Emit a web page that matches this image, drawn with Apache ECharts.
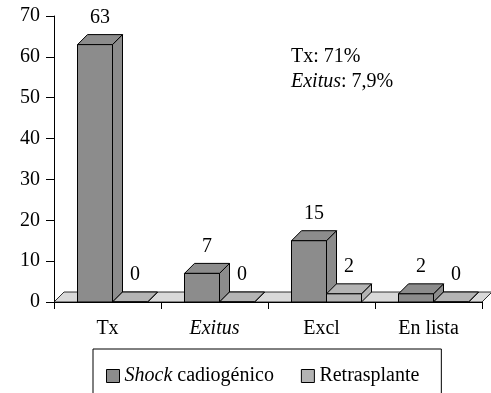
<!DOCTYPE html>
<html>
<head>
<meta charset="utf-8">
<script src="https://cdn.jsdelivr.net/npm/echarts@6/dist/echarts.min.js"></script>
<style>
  html, body { margin: 0; padding: 0; background: #fff; }
  #chart { width: 491px; height: 393px; }
</style>
</head>
<body>
<div id="chart"></div>
<script>
// Outcome counts per group
const categories = ['Tx', 'Exitus', 'Excl', 'En lista'];
const shockValues = [63, 7, 15, 2];
const retrasplanteValues = [0, 0, 2, 0];
const seriesNames = ['Shock cadiogénico', 'Retrasplante'];
const italicWords = ['Exitus', 'Shock'];
const yMin = 0, yMax = 70, yStep = 10;
const noteTx = 'Tx: 71%';
const noteExitus = ': 7,9%';

const FONT = 'Liberation Serif';
const FS = 20;
const DEPTH_X = 10, DEPTH_Y = 10;   // oblique depth of the pseudo-3D boxes
const BAR_W = 35;
const SHIFT = 5;
const colors = ['#8c8c8c', '#b4b4b4'];
const floorColor = '#d9d9d9';

function italicize(text) {
  let out = text;
  italicWords.forEach(w => { out = out.replace(w, '{i|' + w + '}'); });
  return out;
}

function boxRenderer(seriesIdx) {
  return function (params, api) {
    const cat = api.value(0), val = api.value(1);
    const base = api.coord([cat, 0]);
    const top = api.coord([cat, val]);
    const x0 = base[0] + SHIFT - BAR_W + seriesIdx * BAR_W;
    const x1 = x0 + BAR_W;
    const yb = base[1], yt = top[1];
    const dx = DEPTH_X, dy = DEPTH_Y;
    const style = { fill: colors[seriesIdx], stroke: '#000', lineWidth: 1 };
    return {
      type: 'group',
      children: [
        { type: 'polygon', shape: { points: [[x1, yb], [x1 + dx, yb - dy], [x1 + dx, yt - dy], [x1, yt]] }, style: style },
        { type: 'polygon', shape: { points: [[x0, yt], [x0 + dx, yt - dy], [x1 + dx, yt - dy], [x1, yt]] }, style: style },
        { type: 'rect', shape: { x: x0, y: yt, width: BAR_W, height: yb - yt }, style: style },
        { type: 'text', x: x0 + (BAR_W + dx) / 2, y: yt - dy - 17,
          style: { text: String(val), fontFamily: FONT, fontSize: FS, fill: '#000', align: 'center', verticalAlign: 'middle' } }
      ]
    };
  };
}

function floorRenderer(params) {
  const cs = params.coordSys;
  const y = cs.y + cs.height, x = cs.x, w = cs.width;
  return {
    type: 'polygon',
    shape: { points: [[x, y], [x + DEPTH_X, y - DEPTH_Y], [x + w + DEPTH_X, y - DEPTH_Y], [x + w, y]] },
    style: { fill: floorColor, stroke: '#000', lineWidth: 0.8 }
  };
}

const chart = echarts.init(document.getElementById('chart'), null, { renderer: 'canvas' });
chart.setOption({
  animation: false,
  backgroundColor: '#fff',
  textStyle: { fontFamily: FONT },
  grid: { left: 54, right: 9, top: 16, bottom: 91, containLabel: false, outerBoundsMode: 'none' },
  xAxis: {
    type: 'category',
    data: categories,
    boundaryGap: true,
    axisLine: { show: true, lineStyle: { color: '#000', width: 1 } },
    axisTick: { show: true, length: 7, alignWithLabel: false, lineStyle: { color: '#000' } },
    axisLabel: {
      margin: 17, color: '#000', fontFamily: FONT, fontSize: FS,
      formatter: v => italicize(v),
      rich: { i: { fontStyle: 'italic', fontFamily: FONT, fontSize: FS, color: '#000' } }
    },
    splitLine: { show: false }
  },
  yAxis: {
    type: 'value',
    min: yMin, max: yMax, interval: yStep,
    axisLine: { show: true, lineStyle: { color: '#000', width: 1 } },
    axisTick: { show: true, length: 8, lineStyle: { color: '#000' } },
    axisLabel: { margin: 14, color: '#000', fontFamily: FONT, fontSize: FS },
    splitLine: { show: false }
  },
  legend: {
    data: seriesNames,
    left: 93, top: 349,
    orient: 'horizontal',
    padding: [17, 22, 30, 13],
    itemGap: 27, itemWidth: 13, itemHeight: 13,
    icon: 'rect',
    borderColor: '#000', borderWidth: 1, borderRadius: 0,
    formatter: n => italicize(n),
    textStyle: {
      fontFamily: FONT, fontSize: FS, color: '#000',
      rich: { i: { fontStyle: 'italic', fontFamily: FONT, fontSize: FS, color: '#000' } }
    },
    itemStyle: { borderColor: '#000', borderWidth: 1 }
  },
  graphic: [
    { type: 'text', left: 291, top: 47,
      style: { text: noteTx, fontFamily: FONT, fontSize: FS, fill: '#000' } },
    { type: 'text', left: 291, top: 72,
      style: { text: '{i|Exitus}{n|' + noteExitus + '}', fill: '#000',
        rich: { i: { fontStyle: 'italic', fontFamily: FONT, fontSize: FS }, n: { fontFamily: FONT, fontSize: FS } } } }
  ],
  series: [
    { type: 'custom', name: 'floor', z: 1, silent: true, data: [[0, 0]], encode: { x: 0, y: 1 }, renderItem: floorRenderer },
    { type: 'custom', name: seriesNames[0], z: 2, itemStyle: { color: colors[0] },
      data: shockValues.map((v, i) => [i, v]), encode: { x: 0, y: 1 }, renderItem: boxRenderer(0) },
    { type: 'custom', name: seriesNames[1], z: 3, itemStyle: { color: colors[1] },
      data: retrasplanteValues.map((v, i) => [i, v]), encode: { x: 0, y: 1 }, renderItem: boxRenderer(1) }
  ]
});
</script>
</body>
</html>
